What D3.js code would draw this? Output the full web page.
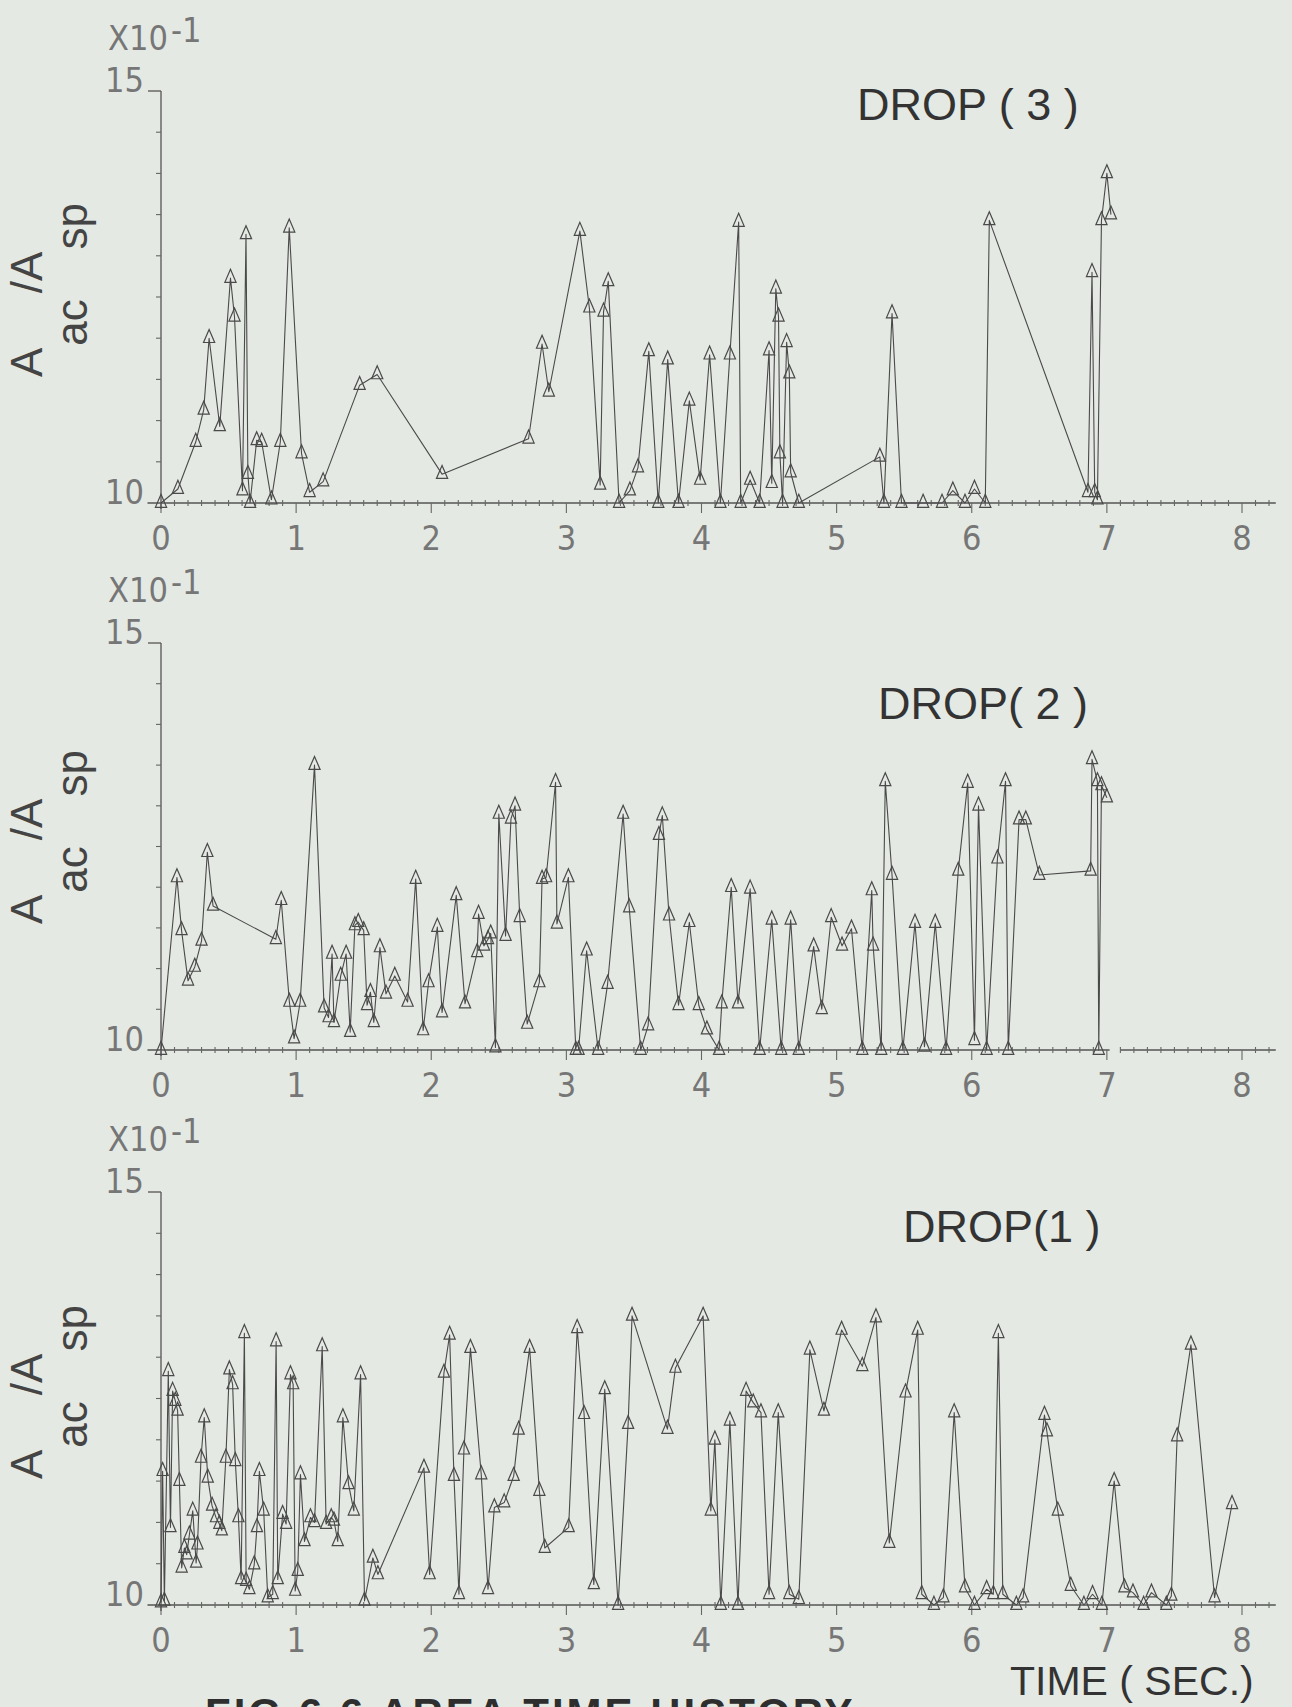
<!DOCTYPE html>
<html lang="en">
<head>
<meta charset="UTF-8">
<title>Area ratio against time, three drops</title>
<script src="https://d3js.org/d3.v7.min.js"></script>
<style>
  html, body { margin: 0; padding: 0; background: #e4e9e3; overflow: hidden; }
  svg { display: block; }
  .digits { font-family: "Liberation Sans Narrow", "DejaVu Sans Condensed", sans-serif; fill: #767676; font-size: 34px; }
  .title { font-family: "Liberation Sans", Arial, sans-serif; fill: #333; font-size: 45px; }
  .xtitle { font-family: "Liberation Sans", Arial, sans-serif; fill: #333; font-size: 41px; }
  .ylab { font-family: "Liberation Sans", Arial, sans-serif; fill: #444; font-size: 44px; }
  .trace { fill: none; stroke: #4a4a4a; stroke-width: 1.1; stroke-linejoin: round; }
  .mark { fill: none; stroke: #4a4a4a; stroke-width: 1.2; }
  .axis { stroke: #555; stroke-width: 1.3; fill: none; }
  .tick { stroke: #666; stroke-width: 1.1; }
  .caption { font-family: "Liberation Sans", Arial, sans-serif; font-weight: bold; fill: #2e2e2e; font-size: 42px; letter-spacing: 3px; }
</style>
</head>
<body>
<svg id="chart" width="1292" height="1707"></svg>
<script>
// ---- data (time in sec, ratio in units of 10^-1) ----
const drop3Time = [0, 0.125, 0.257, 0.316, 0.356, 0.435, 0.514, 0.544, 0.603, 0.629, 0.643, 0.659, 0.708, 0.745, 0.817, 0.883, 0.949,
  1.04, 1.10, 1.20, 1.47, 1.60, 2.08, 2.72, 2.82, 2.87, 3.10, 3.17, 3.25, 3.275, 3.31, 3.39, 3.47, 3.53, 3.61, 3.68, 3.75, 3.83, 3.91,
  3.99, 4.06, 4.14, 4.21, 4.275, 4.29, 4.36, 4.43, 4.50, 4.52, 4.55, 4.57, 4.58, 4.60, 4.63, 4.65, 4.66, 4.72,
  5.32, 5.35, 5.41, 5.48, 5.64, 5.78, 5.86, 5.95, 6.02, 6.10, 6.13, 6.86, 6.89, 6.91, 6.93, 6.96, 7.00, 7.03];
const drop3Ratio = [10.0, 10.17, 10.74, 11.13, 12.0, 10.93, 12.73, 12.26, 10.15, 13.26, 10.35, 10.0, 10.76, 10.74, 10.04, 10.74, 13.34,
  10.6, 10.13, 10.26, 11.43, 11.56, 10.35, 10.78, 11.93, 11.35, 13.3, 12.37, 10.22, 12.32, 12.69, 10.0, 10.15, 10.43, 11.84, 10.0, 11.74, 10.0, 11.24,
  10.28, 11.8, 10.0, 11.8, 13.41, 10.0, 10.28, 10.0, 11.85, 10.24, 12.6, 12.26, 10.6, 10.0, 11.95, 11.57, 10.37, 10.0,
  10.56, 10.0, 12.3, 10.0, 10.0, 10.0, 10.15, 10.0, 10.17, 10.0, 13.43, 10.13, 12.8, 10.13, 10.04, 13.43, 14.0, 13.5];

const drop2Time = [0, 0.118, 0.152, 0.20, 0.25, 0.30, 0.343, 0.385, 0.85, 0.89, 0.95, 0.985, 1.03, 1.136, 1.207, 1.24, 1.266, 1.28,
  1.33, 1.37, 1.40, 1.435, 1.46, 1.50, 1.525, 1.55, 1.575, 1.62, 1.665, 1.73, 1.825, 1.885, 1.94, 1.98, 2.045, 2.08, 2.185, 2.25,
  2.34, 2.35, 2.39, 2.42, 2.44, 2.475, 2.50, 2.55, 2.59, 2.62, 2.655, 2.71, 2.80, 2.82, 2.85, 2.92, 2.93, 3.015, 3.07, 3.09,
  3.15, 3.235, 3.305, 3.42, 3.465, 3.55, 3.605, 3.685, 3.71, 3.76, 3.83, 3.91, 3.98, 4.04, 4.13, 4.15, 4.22, 4.27, 4.36, 4.43,
  4.52, 4.59, 4.66, 4.72, 4.83, 4.89, 4.96, 5.04, 5.11, 5.19, 5.26, 5.27, 5.33, 5.36, 5.41, 5.49, 5.58, 5.65, 5.73, 5.81,
  5.90, 5.97, 6.02, 6.05, 6.11, 6.19, 6.25, 6.27, 6.35, 6.40, 6.50, 6.88, 6.89, 6.93, 6.94, 6.96, 7.00];
const drop2Ratio = [10.0, 12.12, 11.47, 10.85, 11.02, 11.34, 12.43, 11.77, 11.36, 11.84, 10.59, 10.14, 10.59, 13.5, 10.52, 10.4, 11.18, 10.34,
  10.91, 11.18, 10.22, 11.53, 11.57, 11.47, 10.55, 10.71, 10.34, 11.26, 10.69, 10.91, 10.59, 12.1, 10.24, 10.83, 11.51, 10.46, 11.9, 10.57,
  11.2, 11.67, 11.28, 11.36, 11.43, 10.03, 12.9, 11.4, 12.84, 13.0, 11.63, 10.32, 10.83, 12.1, 12.12, 13.29, 11.55, 12.12, 10.0, 10.0,
  11.22, 10.0, 10.81, 12.9, 11.75, 10.0, 10.3, 12.64, 12.88, 11.65, 10.55, 11.57, 10.55, 10.25, 10.0, 10.57, 12.0, 10.57, 11.98, 10.0,
  11.6, 10.0, 11.6, 10.0, 11.27, 10.5, 11.63, 11.28, 11.49, 10.0, 11.96, 11.28, 10.0, 13.3, 12.15, 10.0, 11.56, 10.04, 11.56, 10.0,
  12.2, 13.28, 10.12, 13.0, 10.0, 12.35, 13.3, 10.0, 12.83, 12.83, 12.15, 12.2, 13.57, 13.3, 10.0, 13.25, 13.1];

const drop1Time = [0, 0.012, 0.025, 0.054, 0.07, 0.086, 0.106, 0.123, 0.136, 0.153, 0.173, 0.19, 0.21, 0.235, 0.26, 0.27, 0.296, 0.32,
  0.346, 0.378, 0.407, 0.432, 0.45, 0.48, 0.506, 0.53, 0.55, 0.573, 0.593, 0.617, 0.63, 0.654, 0.69, 0.71, 0.728, 0.76, 0.79, 0.827,
  0.852, 0.864, 0.90, 0.926, 0.958, 0.978, 0.993, 1.012, 1.032, 1.062, 1.106, 1.136, 1.193, 1.222, 1.26, 1.28, 1.308, 1.346, 1.388,
  1.427, 1.477, 1.506, 1.568, 1.605, 1.946, 1.988, 2.094, 2.136, 2.168, 2.205, 2.242, 2.29, 2.37, 2.42, 2.467, 2.54, 2.61, 2.647,
  2.728, 2.80, 2.84, 3.017, 3.08, 3.131, 3.203, 3.284, 3.383, 3.457, 3.486, 3.748, 3.807, 4.012, 4.069, 4.099, 4.143, 4.21, 4.27,
  4.33, 4.383, 4.44, 4.50, 4.568, 4.65, 4.72, 4.802, 4.906, 5.037, 5.19, 5.291, 5.39, 5.51, 5.60, 5.63, 5.72, 5.79, 5.87, 5.95,
  6.02, 6.11, 6.16, 6.197, 6.23, 6.33, 6.38, 6.538, 6.556, 6.637, 6.733, 6.83, 6.894, 6.963, 7.054, 7.13, 7.193, 7.272, 7.33,
  7.44, 7.477, 7.52, 7.622, 7.797, 7.926];
const drop1Ratio = [10.03, 11.62, 10.05, 12.83, 10.94, 12.59, 12.47, 12.35, 11.5, 10.45, 10.69, 10.61, 10.85, 11.14, 10.51, 10.73, 11.78, 12.27,
  11.54, 11.2, 11.06, 10.98, 10.9, 11.78, 12.85, 12.67, 11.74, 11.06, 10.31, 13.29, 10.29, 10.19, 10.49, 10.94, 11.62, 11.14, 10.09, 10.13,
  13.19, 10.31, 11.1, 10.98, 12.79, 12.67, 10.17, 10.41, 11.58, 10.77, 11.06, 11.0, 13.13, 10.98, 11.06, 11.02, 10.77, 12.27, 11.46,
  11.14, 12.79, 10.05, 10.57, 10.37, 11.66, 10.37, 12.81, 13.27, 11.56, 10.13, 11.88, 13.11, 11.58, 10.19, 11.18, 11.24, 11.56, 12.12,
  13.11, 11.38, 10.69, 10.94, 13.35, 12.31, 10.25, 12.61, 10.0, 12.19, 13.5, 12.13, 12.87, 13.5, 11.14, 12.0, 10.0, 12.23, 10.0,
  12.59, 12.45, 12.33, 10.13, 12.33, 10.13, 10.07, 13.09, 12.35, 13.33, 12.89, 13.48, 10.75, 12.57, 13.33, 10.13, 10.0, 10.09, 12.33, 10.21,
  10.0, 10.19, 10.13, 13.29, 10.13, 10.0, 10.09, 12.3, 12.1, 11.14, 10.23, 10.0, 10.13, 10.0, 11.5, 10.21, 10.15, 10.0, 10.15,
  10.0, 10.11, 12.04, 13.15, 10.09, 11.22];

const xTickValues = [0, 1, 2, 3, 4, 5, 6, 7, 8];
const xTickLabels = ["0", "1", "2", "3", "4", "5", "6", "7", "8"];
const yTickValues = [10, 15];
const yTickLabels = ["10", "15"];
const dropNames = ["DROP ( 3 )", "DROP( 2 )", "DROP(1 )"];

// ---- layout ----
const svg = d3.select("#chart");
const x = d3.scaleLinear().domain([0, 8]).range([161, 1242]);

const panels = [
  { name: dropNames[0], t: drop3Time, v: drop3Ratio, top: 91,   base: 503,  titleX: 857, titleDy: 29 },
  { name: dropNames[1], t: drop2Time, v: drop2Ratio, top: 643,  base: 1050, titleX: 878, titleDy: 76, gap: [7.02, 7.1] },
  { name: dropNames[2], t: drop1Time, v: drop1Ratio, top: 1192, base: 1605, titleX: 903, titleDy: 50 }
];

const tri = "M0,-8.7 L5.6,4.3 L-5.6,4.3 Z";

panels.forEach(p => {
  const y = d3.scaleLinear().domain([10, 15]).range([p.base, p.top]);
  const g = svg.append("g");

  // x axis line (with optional break)
  const segs = p.gap ? [[-0.1, p.gap[0]], [p.gap[1], 8.25]] : [[-0.1, 8.25]];
  segs.forEach(s => {
    g.append("line").attr("class", "axis")
      .attr("x1", x(s[0])).attr("x2", x(s[1]))
      .attr("y1", y(10)).attr("y2", y(10));
  });
  // minor x ticks every 0.1 s
  const minor = d3.range(1, 83).map(i => i / 10).filter(d => Math.abs(d - Math.round(d)) > 0.01);
  g.selectAll(".mx").data(minor).join("line").attr("class", "tick")
    .attr("x1", d => x(d)).attr("x2", d => x(d))
    .attr("y1", y(10) - 3).attr("y2", y(10) + 3);
  g.selectAll(".Mx").data(xTickValues).join("line").attr("class", "tick")
    .attr("x1", d => x(d)).attr("x2", d => x(d))
    .attr("y1", y(10)).attr("y2", y(10) + 10);
  g.selectAll(".xl").data(xTickValues).join("text").attr("class", "digits")
    .attr("x", d => x(d)).attr("y", y(10) + 47)
    .attr("text-anchor", "middle")
    .text((d, i) => xTickLabels[i]);

  // y axis
  g.append("line").attr("class", "axis")
    .attr("x1", x(0)).attr("x2", x(0))
    .attr("y1", y(15)).attr("y2", y(10) + 6);
  g.append("line").attr("class", "axis")
    .attr("x1", x(0) - 13).attr("x2", x(0))
    .attr("y1", y(15)).attr("y2", y(15));
  g.selectAll(".my").data(d3.range(10.5, 15, 0.5)).join("line").attr("class", "tick")
    .attr("x1", x(0) - 5).attr("x2", x(0))
    .attr("y1", d => y(d)).attr("y2", d => y(d));
  g.selectAll(".yl").data(yTickValues).join("text").attr("class", "digits")
    .attr("x", x(0) - 17).attr("y", d => y(d) + 1)
    .attr("text-anchor", "end")
    .text((d, i) => yTickLabels[i]);

  // x10^-1 multiplier
  const mult = g.append("text").attr("class", "digits").attr("x", 108).attr("y", y(15) - 41);
  mult.append("tspan").text("X10");
  mult.append("tspan").attr("dy", -8).attr("dx", 3).text("-1");

  // rotated axis title
  const yt = g.append("text").attr("class", "ylab")
    .attr("transform", `translate(42,${p.base - 126}) rotate(-90)`);
  yt.append("tspan").text("A");
  yt.append("tspan").attr("dy", 45).attr("dx", 2).text("ac");
  yt.append("tspan").attr("dy", -45).attr("dx", 6).text("/A");
  yt.append("tspan").attr("dy", 45).attr("dx", 2).text("sp");

  // drop title
  g.append("text").attr("class", "title")
    .attr("x", p.titleX).attr("y", p.top + p.titleDy)
    .text(p.name);

  // series
  const pts = d3.zip(p.t, p.v);
  const line = d3.line().x(d => x(d[0])).y(d => y(d[1]));
  g.append("path").datum(pts).attr("class", "trace").attr("d", line);
  g.selectAll(".mark").data(pts).join("path").attr("class", "mark")
    .attr("transform", d => `translate(${x(d[0])},${y(d[1])})`)
    .attr("d", tri);
});

// x axis title and clipped figure caption
svg.append("text").attr("class", "xtitle").attr("x", 1010).attr("y", 1695).text("TIME ( SEC.)");
svg.append("text").attr("class", "caption").attr("x", 205).attr("y", 1728).text("FIG 6.6  AREA  TIME  HISTORY");
</script>
</body>
</html>
